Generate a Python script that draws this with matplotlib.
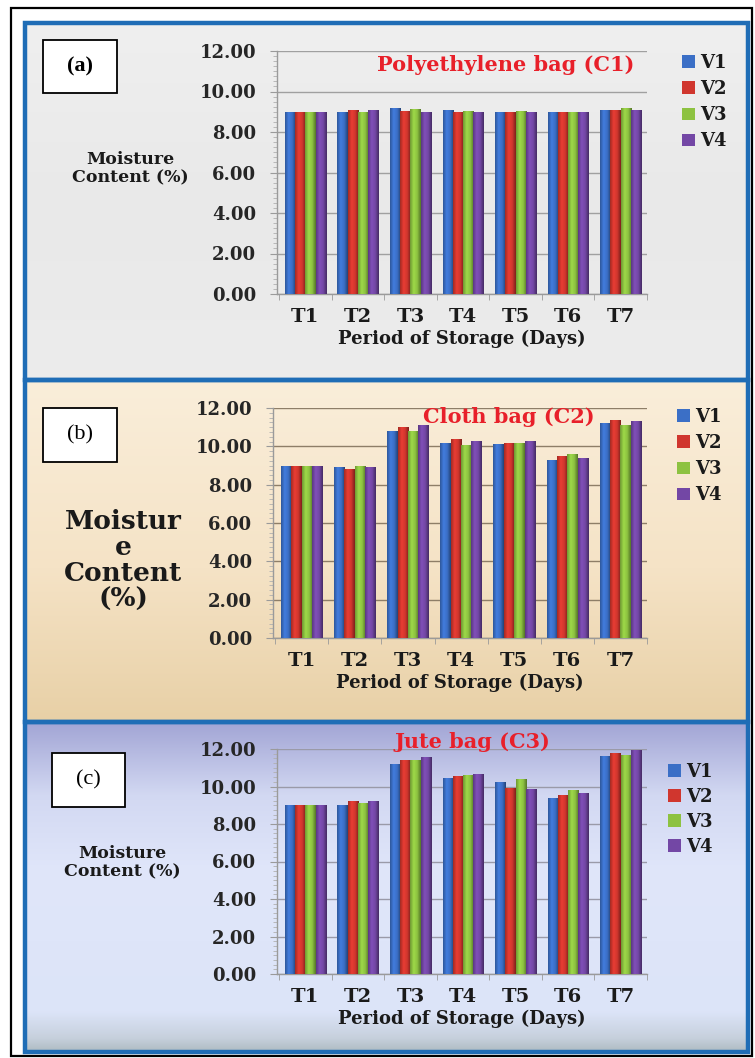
import numpy as np
import matplotlib
matplotlib.use("Agg")
import matplotlib.pyplot as plt
from matplotlib.colors import LinearSegmentedColormap, to_rgb
from matplotlib.patches import Rectangle, Patch

# ---- data -------------------------------------------------------------
periods = ["T1", "T2", "T3", "T4", "T5", "T6", "T7"]
varieties = ["V1", "V2", "V3", "V4"]

# (a) Polyethylene bag (C1)
c1_v1 = [9.00, 9.00, 9.18, 9.08, 9.00, 9.00, 9.08]
c1_v2 = [9.00, 9.08, 9.05, 9.00, 9.00, 9.00, 9.08]
c1_v3 = [9.00, 9.00, 9.16, 9.06, 9.06, 9.00, 9.18]
c1_v4 = [9.00, 9.08, 8.98, 8.98, 9.00, 9.00, 9.08]

# (b) Cloth bag (C2)
c2_v1 = [9.00, 8.90, 10.80, 10.20, 10.10, 9.30, 11.20]
c2_v2 = [9.00, 8.80, 11.00, 10.40, 10.20, 9.50, 11.40]
c2_v3 = [9.00, 9.00, 10.80, 10.05, 10.20, 9.60, 11.10]
c2_v4 = [9.00, 8.90, 11.10, 10.30, 10.30, 9.40, 11.30]

# (c) Jute bag (C3)
c3_v1 = [9.00, 9.00, 11.20, 10.45, 10.25, 9.40, 11.65]
c3_v2 = [9.00, 9.25, 11.40, 10.55, 9.90, 9.55, 11.80]
c3_v3 = [9.00, 9.10, 11.40, 10.60, 10.40, 9.80, 11.70]
c3_v4 = [9.00, 9.25, 11.55, 10.65, 9.85, 9.65, 11.95]

yticks = [0, 2, 4, 6, 8, 10, 12]
bar_colors = ["#3B6FC6", "#D0362E", "#8DC241", "#7347A5"]

W, H = 755, 1058
fig = plt.figure(figsize=(W / 100, H / 100), dpi=100)
SERIF = ["DejaVu Serif"]


def fx(px):
    return px / W


def fy(py):
    return 1 - py / H


# ---- panel backgrounds -------------------------------------------------
def panel_bg(y_top, y_bot, colors, stops):
    bg = fig.add_axes([fx(25), fy(y_bot), fx(748) - fx(25), fy(y_top) - fy(y_bot)],
                      zorder=-5)
    cmap = LinearSegmentedColormap.from_list("bg", list(zip(stops, colors)))
    grad = np.linspace(0, 1, 256)[:, None]
    bg.imshow(grad, cmap=cmap, aspect="auto", extent=(0, 1, 0, 1), origin="upper")
    bg.set_xlim(0, 1)
    bg.set_ylim(0, 1)
    bg.axis("off")


panel_bg(23, 380, ["#EFEFEF", "#E9E9E9", "#ECECEC"], [0, 0.5, 1])
panel_bg(380, 722, ["#FAEEDA", "#F5E3C6", "#E8D0A6"], [0, 0.55, 1])
panel_bg(722, 1052, ["#A2A5D5", "#D2D8F2", "#E0E6FA", "#DCE4F8", "#C6D0DC", "#AEBBC2"],
         [0, 0.22, 0.45, 0.88, 0.96, 1])

# panel borders and outer frame
for (yt, yb) in [(23, 380), (380, 722), (722, 1052)]:
    fig.patches.append(Rectangle((fx(25), fy(yb)), fx(748) - fx(25), fy(yt) - fy(yb),
                                 transform=fig.transFigure, fill=False,
                                 edgecolor="#1F6DB6", linewidth=3.2, zorder=20))
fig.patches.append(Rectangle((fx(11), fy(1056)), fx(752) - fx(11), fy(8) - fy(1056),
                             transform=fig.transFigure, fill=False,
                             edgecolor="black", linewidth=1.6, zorder=21))


# ---- bar chart helper ---------------------------------------------------
def shaded_bars(ax, xs, hs, w, color):
    bars = ax.bar(xs, hs, w, color=color, edgecolor="none", zorder=3)
    c = np.array(to_rgb(color))
    cmap = LinearSegmentedColormap.from_list(
        "shade", [c * 0.78, np.minimum(c * 1.12, 1), c, c * 0.6])
    grad = np.linspace(0, 1, 64)[None, :]
    for b in bars:
        x0, w0, h0 = b.get_x(), b.get_width(), b.get_height()
        im = ax.imshow(grad, extent=(x0, x0 + w0, 0, h0), cmap=cmap, aspect="auto",
                       interpolation="bilinear", zorder=3.1)
        im.set_clip_path(b)
    return bars


def draw_panel(rect, series, title, title_xy, ylabel, ylabel_xy, ylabel_size,
               grid_color, legend_xy, legend_spacing, box, box_text, box_bold):
    ax = fig.add_axes(rect)
    ax.set_facecolor("none")
    x = np.arange(len(periods))
    bw = 0.195
    for j, (vals, col) in enumerate(zip(series, bar_colors)):
        shaded_bars(ax, x + (j - 1.5) * bw, vals, bw, col)
    ax.set_xlim(-0.54, 6.46)
    ax.set_ylim(0, 12)
    ax.set_yticks(yticks)
    ax.set_yticklabels([f"{v:.2f}" for v in yticks])
    ax.set_yticks(np.arange(0, 12.01, 0.25), minor=True)
    ax.set_xticks(x)
    ax.set_xticklabels(periods)
    ax.set_xticks(np.arange(-0.5, 6.6, 1), minor=True)
    ax.grid(axis="y", color=grid_color, linewidth=1.0, zorder=0)
    ax.set_axisbelow(True)
    for s in ["top", "right"]:
        ax.spines[s].set_visible(False)
    for s in ["left", "bottom"]:
        ax.spines[s].set_color("#9A9A9A")
        ax.spines[s].set_linewidth(1.0)
    ax.tick_params(axis="y", which="major", length=5, color="#9A9A9A", pad=10,
                   labelsize=13, labelcolor="#262626")
    ax.tick_params(axis="y", which="minor", length=3, color="#B0B0B0")
    ax.tick_params(axis="x", which="major", length=0, pad=10, labelsize=14,
                   labelcolor="#1A1A1A")
    ax.tick_params(axis="x", which="minor", length=4, color="#9A9A9A")
    for lab in ax.get_yticklabels() + ax.get_xticklabels():
        lab.set_fontfamily(SERIF)
        lab.set_fontweight("bold")
    ax.set_xlabel("Period of Storage (Days)", fontsize=13, fontweight="bold",
                  family=SERIF, color="#1A1A1A", labelpad=3)
    ax.text(title_xy[0], title_xy[1], title, transform=ax.transAxes, ha="center",
            va="center", fontsize=15, fontweight="bold", family=SERIF,
            color="#E8202A", zorder=6)
    ax.set_ylabel(ylabel, rotation=0, fontsize=ylabel_size, fontweight="bold",
                  family=SERIF, color="#1A1A1A", ha="center", va="center",
                  linespacing=1.1 if ylabel_size < 15 else 1.05)
    ax.yaxis.set_label_coords(*ylabel_xy)
    handles = [Patch(facecolor=c, edgecolor="none") for c in bar_colors]
    leg = ax.legend(handles, varieties, loc="upper left", bbox_to_anchor=legend_xy,
                    bbox_transform=fig.transFigure, frameon=False, borderpad=0,
                    borderaxespad=0, handlelength=0.7, handleheight=0.7,
                    handletextpad=0.3, labelspacing=legend_spacing,
                    prop={"family": SERIF, "weight": "bold", "size": 13})
    for t in leg.get_texts():
        t.set_color("#1A1A1A")
    # panel tag box
    bx0, by0, bx1, by1 = box
    fig.patches.append(Rectangle((fx(bx0), fy(by1)), fx(bx1) - fx(bx0), fy(by0) - fy(by1),
                                 transform=fig.transFigure, facecolor="white",
                                 edgecolor="black", linewidth=1.3, zorder=10))
    fig.text(fx((bx0 + bx1) / 2), fy((by0 + by1) / 2), box_text, ha="center",
             va="center", fontsize=16, family=["Liberation Serif"],
             fontweight="bold" if box_bold else "normal", zorder=11)
    return ax


draw_panel([fx(277), fy(294), fx(647) - fx(277), fy(51) - fy(294)],
           [c1_v1, c1_v2, c1_v3, c1_v4], "Polyethylene bag (C1)", (0.619, 0.942),
           "Moisture\nContent (%)", (-0.397, 0.514), 12.5, "#A0A0A0",
           (fx(682), fy(54)), 0.45, (43, 40, 117, 93), "(a)", True)

draw_panel([fx(273), fy(638), fx(647) - fx(273), fy(408) - fy(638)],
           [c2_v1, c2_v2, c2_v3, c2_v4], "Cloth bag (C2)", (0.631, 0.961),
           "Moistur\ne\nContent\n(%)", (-0.401, 0.339), 19, "#8E7E68",
           (fx(677), fy(408)), 0.45, (43, 408, 117, 462), "(b)", False)

draw_panel([fx(277), fy(974), fx(647) - fx(277), fy(749) - fy(974)],
           [c3_v1, c3_v2, c3_v3, c3_v4], "Jute bag (C3)", (0.527, 1.031),
           "Moisture\nContent (%)", (-0.419, 0.493), 12.5, "#9A9AA8",
           (fx(668), fy(763)), 0.38, (52, 753, 125, 807), "(c)", False)

fig.savefig("out.png", dpi=100)
